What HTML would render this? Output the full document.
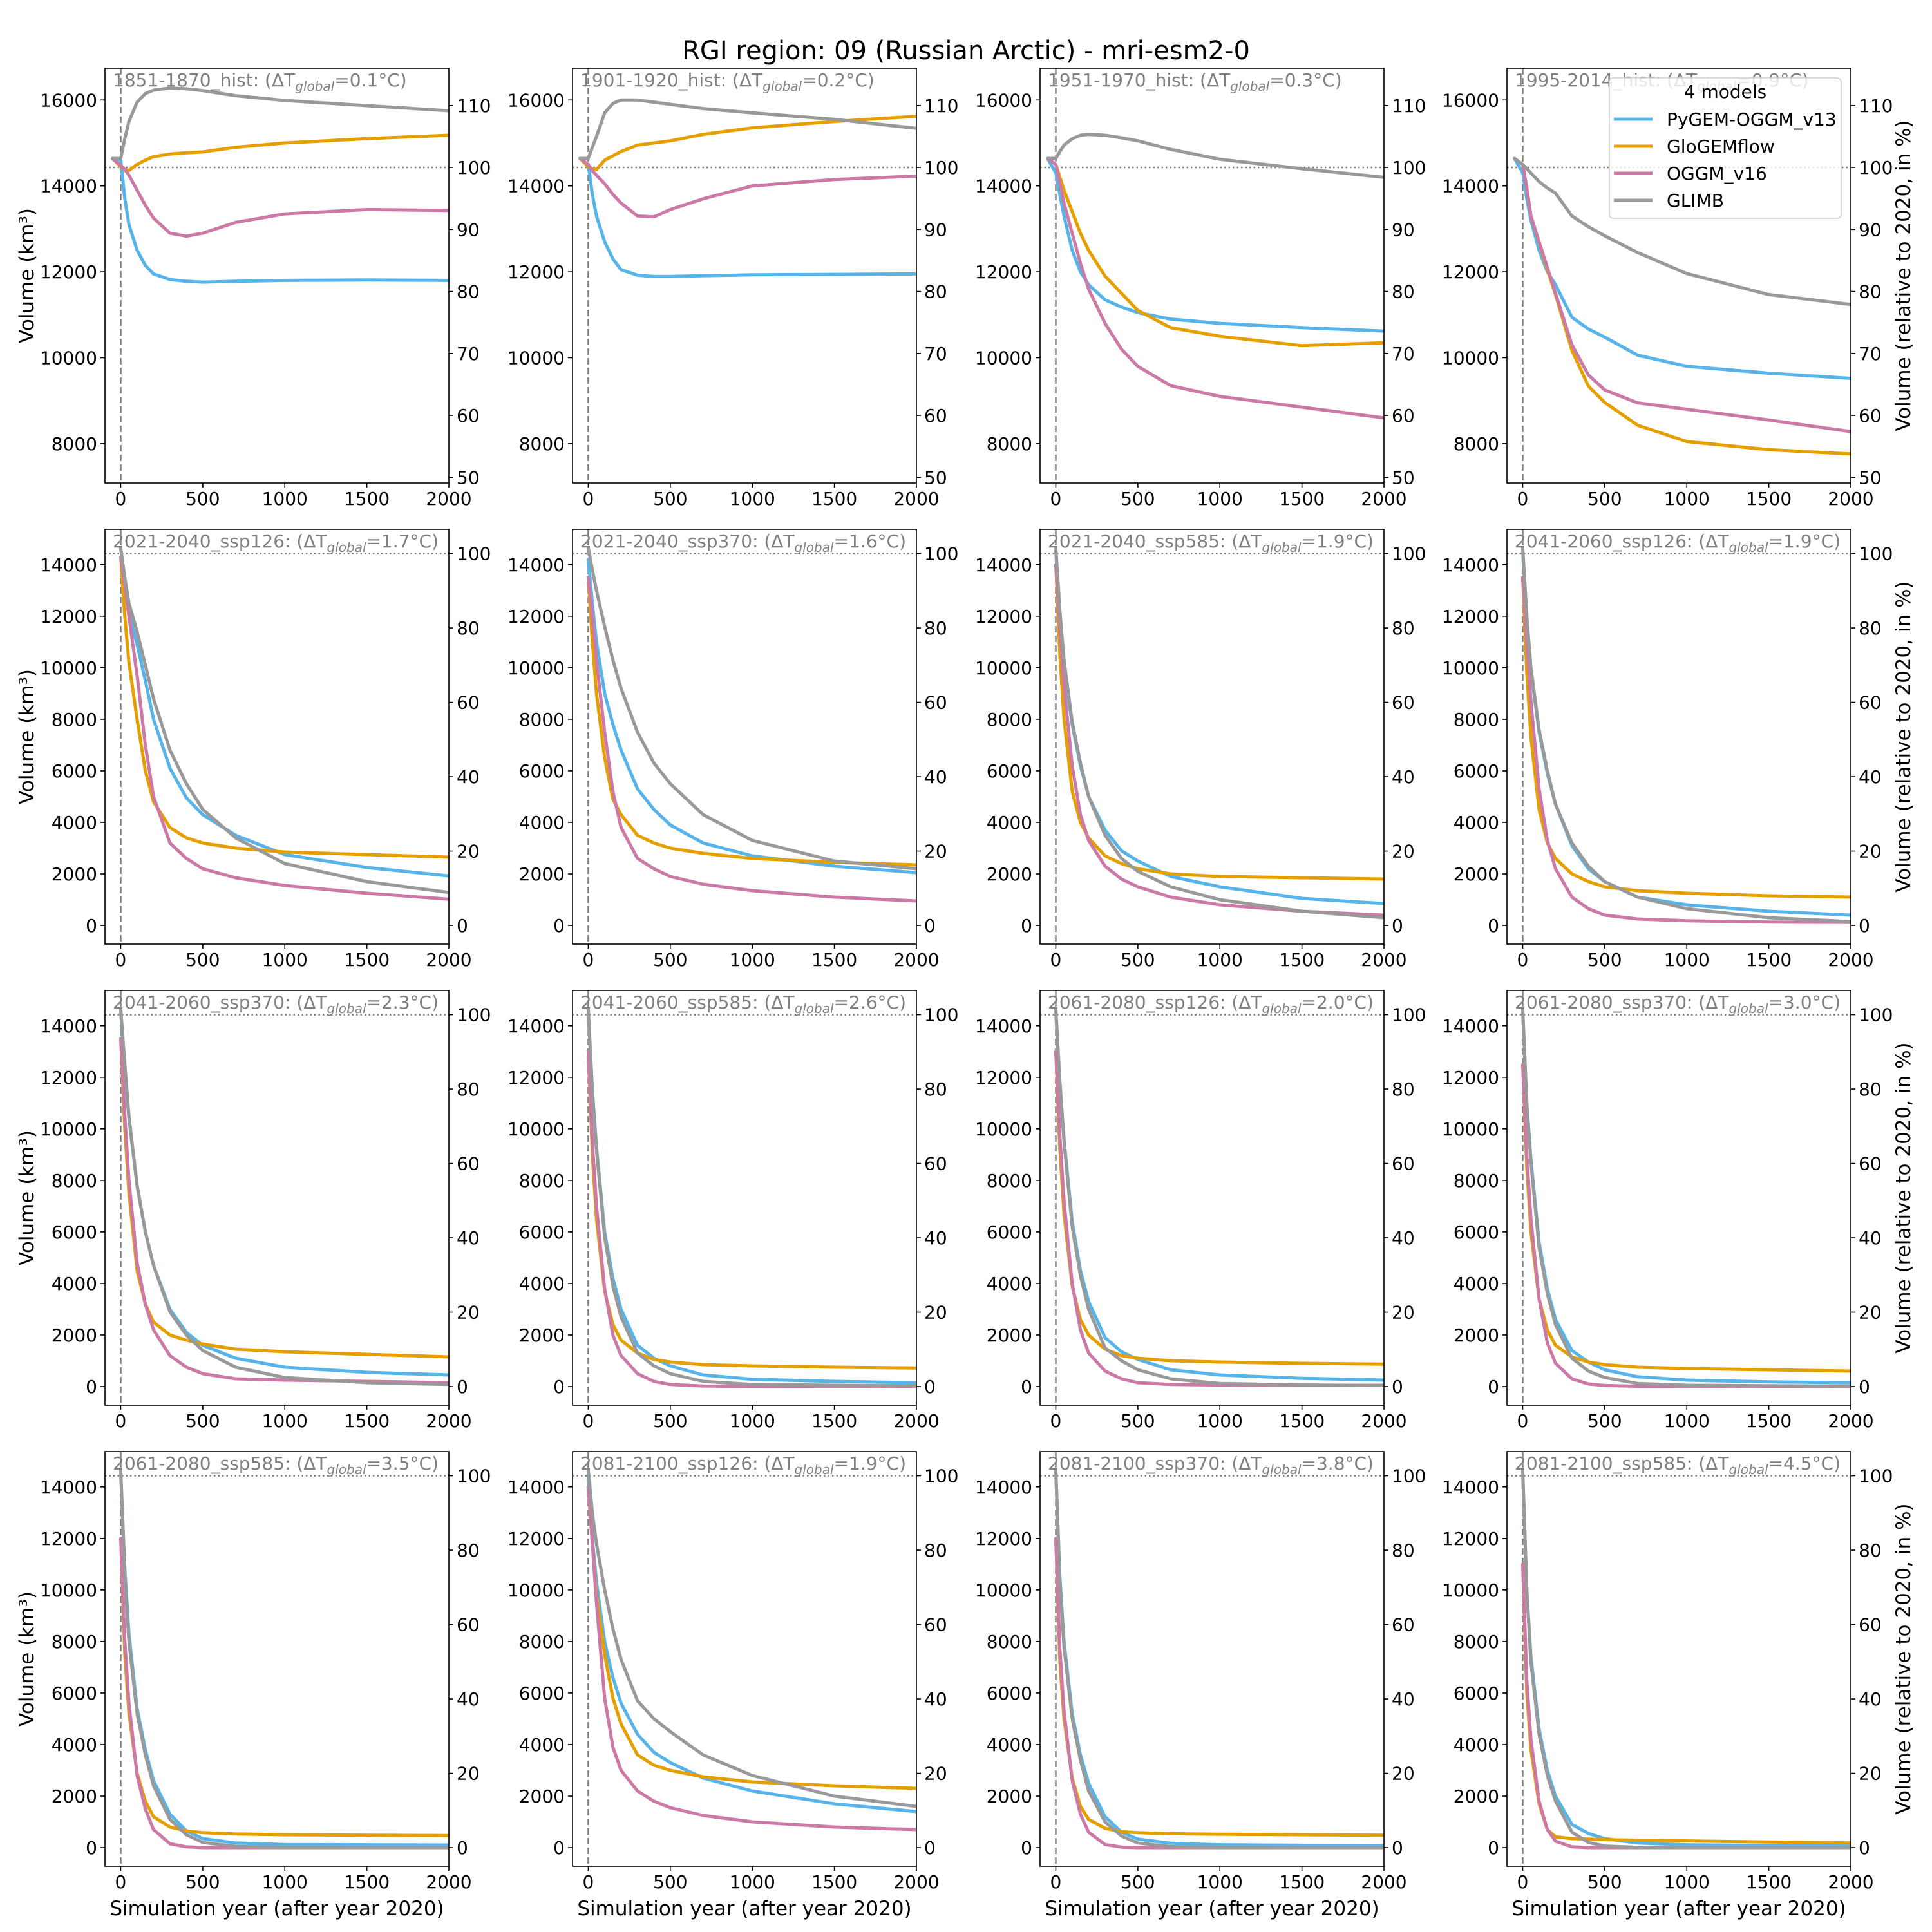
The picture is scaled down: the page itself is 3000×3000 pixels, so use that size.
<!DOCTYPE html>
<html><head><meta charset="utf-8">
<style>
html,body{margin:0;padding:0;background:#fff;}
svg{display:block;font-family:"DejaVu Sans","Liberation Sans",sans-serif;}
</style></head>
<body>
<svg id="fig" width="3000" height="3000" viewBox="0 0 3000 3000" xmlns="http://www.w3.org/2000/svg">
<rect width="3000" height="3000" fill="#fff"/>
<text x="1500" y="92" font-size="40" text-anchor="middle" fill="#000">RGI region: 09 (Russian Arctic) - mri-esm2-0</text>
</svg>
<script>
const YEARS_HIST = [-50,0,25,50,100,150,200,300,400,500,700,1000,1500,2000];
const YEARS_FUT = [0,25,50,100,150,200,300,400,500,700,1000,1500,2000];
const MODELS = ["PyGEM-OGGM_v13","GloGEMflow","OGGM_v16","GLIMB"];
const COLORS = ["#56b4e9","#e69f00","#cc79a7","#999999"];
const PANEL_LABELS = ["1851-1870_hist","1901-1920_hist","1951-1970_hist","1995-2014_hist",
"2021-2040_ssp126","2021-2040_ssp370","2021-2040_ssp585","2041-2060_ssp126",
"2041-2060_ssp370","2041-2060_ssp585","2061-2080_ssp126","2061-2080_ssp370",
"2061-2080_ssp585","2081-2100_ssp126","2081-2100_ssp370","2081-2100_ssp585"];
const DT = ["0.1","0.2","0.3","0.9","1.7","1.6","1.9","1.9","2.3","2.6","2.0","3.0","3.5","1.9","3.8","4.5"];
const REF = 14430;
const X_TICKS = [0,500,1000,1500,2000];
const Y_TICKS_HIST = [8000,10000,12000,14000,16000];
const Y_TICKS_FUT = [0,2000,4000,6000,8000,10000,12000,14000];
const PCT_TICKS_HIST = [50,60,70,80,90,100,110];
const PCT_TICKS_FUT = [0,20,40,60,80,100];

// hist panels: values at YEARS_HIST
const P1_PYGEM = [14640,14600,13700,13100,12500,12150,11950,11820,11780,11760,11780,11800,11810,11800];
const P1_GLOGEM = [14640,14450,14380,14360,14500,14600,14680,14740,14770,14790,14900,15000,15100,15180];
const P1_OGGM = [14640,14480,14380,14250,13900,13550,13250,12900,12830,12900,13150,13350,13450,13430];
const P1_GLIMB = [14640,14640,15100,15500,15950,16150,16230,16280,16260,16220,16100,15990,15870,15750];
const P2_PYGEM = [14640,14500,13800,13300,12700,12300,12050,11920,11890,11890,11910,11930,11940,11950];
const P2_GLOGEM = [14640,14450,14400,14380,14600,14700,14800,14950,15000,15050,15200,15350,15500,15620];
const P2_OGGM = [14640,14500,14350,14250,14050,13800,13600,13300,13280,13450,13700,14000,14150,14230];
const P2_GLIMB = [14640,14640,14900,15150,15700,15920,16000,16000,15950,15900,15800,15700,15550,15340];
const P3_PYGEM = [14640,14300,13800,13300,12500,12000,11700,11350,11180,11050,10900,10800,10700,10620];
const P3_GLOGEM = [14640,14500,14200,13900,13400,12900,12500,11900,11500,11100,10700,10500,10280,10350];
const P3_OGGM = [14640,14500,14050,13600,12900,12200,11600,10800,10200,9800,9350,9100,8850,8600];
const P3_GLIMB = [14640,14640,14800,14950,15100,15180,15200,15180,15120,15050,14850,14620,14400,14200];
const P4_PYGEM = [14640,14300,13700,13200,12500,12000,11700,10940,10670,10480,10060,9800,9640,9520];
const P4_GLOGEM = [14640,14500,13950,13300,12680,12050,11470,10170,9340,8960,8430,8050,7860,7760];
const P4_OGGM = [14640,14500,13950,13300,12700,12100,11500,10300,9600,9250,8950,8800,8550,8280];
const P4_GLIMB = [14640,14500,14400,14300,14100,13950,13830,13300,13050,12840,12450,11960,11470,11240];
// future panels: values at YEARS_FUT
const P5_PYGEM = [14640,13200,12100,10900,9500,8000,6100,4950,4300,3500,2750,2250,1920];
const P5_GLOGEM = [14300,12000,10200,8000,6000,4800,3800,3400,3200,3000,2850,2750,2650];
const P5_OGGM = [14300,13200,12000,9700,7000,5000,3200,2600,2200,1850,1550,1250,1020];
const P5_GLIMB = [14640,13500,12500,11400,10100,8800,6800,5500,4500,3400,2400,1700,1280];
const P6_PYGEM = [14200,12500,11000,9000,7800,6800,5300,4500,3900,3200,2700,2300,2050];
const P6_GLOGEM = [13500,11000,9000,6500,4900,4300,3500,3200,3000,2800,2600,2450,2350];
const P6_OGGM = [13500,12000,10300,7500,5200,3800,2600,2200,1900,1600,1350,1100,950];
const P6_GLIMB = [14640,13800,13000,11600,10300,9200,7500,6300,5500,4300,3300,2500,2200];
const P7_PYGEM = [14500,12000,10000,7800,6200,5000,3700,2900,2500,1900,1500,1050,850];
const P7_GLOGEM = [14000,10500,8000,5200,4000,3400,2700,2400,2200,2000,1900,1850,1800];
const P7_OGGM = [14000,11500,9300,6200,4300,3300,2300,1800,1500,1100,800,550,400];
const P7_GLIMB = [14640,12200,10300,7900,6300,5000,3500,2600,2100,1500,1000,550,300];
const P8_PYGEM = [14500,11800,9900,7500,5900,4700,3100,2200,1700,1100,800,550,400];
const P8_GLOGEM = [13500,9800,7300,4500,3200,2600,2000,1700,1500,1350,1250,1150,1100];
const P8_OGGM = [13500,11000,8700,5300,3300,2200,1100,650,400,250,180,130,120];
const P8_GLIMB = [14640,12000,10000,7600,6000,4700,3200,2300,1700,1100,650,300,150];
const P9_PYGEM = [14500,12300,10400,7800,6000,4700,3000,2100,1600,1100,750,550,450];
const P9_GLOGEM = [13500,10000,7500,4500,3200,2500,2000,1800,1650,1450,1350,1250,1150];
const P9_OGGM = [13500,10500,8000,4800,3200,2200,1200,750,500,300,250,200,150];
const P9_GLIMB = [14640,12500,10500,7800,6000,4700,2900,2000,1400,750,350,150,80];
const P10_PYGEM = [14500,11500,9300,6000,4200,3000,1600,1100,800,450,280,200,150];
const P10_GLOGEM = [13000,9000,6500,3700,2400,1800,1300,1050,950,850,800,750,720];
const P10_OGGM = [13000,9500,7000,3800,2000,1200,500,200,80,20,10,5,0];
const P10_GLIMB = [14640,11500,9200,5800,3900,2700,1300,800,500,200,80,50,30];
const P11_PYGEM = [14500,11800,9600,6400,4500,3300,1900,1350,1050,650,450,320,250];
const P11_GLOGEM = [13000,9200,6700,3900,2600,2000,1450,1200,1100,1000,950,900,870];
const P11_OGGM = [13000,9700,7200,4000,2200,1300,600,300,150,80,60,50,50];
const P11_GLIMB = [14640,11800,9500,6200,4300,3000,1500,1000,650,300,120,60,40];
const P12_PYGEM = [14500,11000,8800,5600,3800,2600,1400,950,650,380,250,180,150];
const P12_GLOGEM = [12500,8500,6000,3400,2200,1600,1150,950,850,750,700,650,600];
const P12_OGGM = [12500,9000,6500,3400,1700,900,300,100,40,10,5,0,0];
const P12_GLIMB = [14640,11000,8700,5400,3600,2400,1100,600,350,120,50,30,20];
const P13_PYGEM = [14500,10800,8300,5400,3800,2600,1300,650,350,180,120,110,100];
const P13_GLOGEM = [12000,7500,5200,2900,1800,1200,800,650,580,530,500,480,470];
const P13_OGGM = [12000,8000,5600,2800,1500,700,150,30,0,0,0,0,0];
const P13_GLIMB = [14640,10500,8000,5200,3600,2400,1100,500,200,50,10,0,0];
const P14_PYGEM = [14500,12000,10300,8000,6600,5600,4400,3700,3300,2700,2200,1700,1400];
const P14_GLOGEM = [14000,11800,9800,7500,5800,4800,3600,3200,3000,2750,2550,2400,2300];
const P14_OGGM = [14000,11800,9500,5800,3900,3000,2200,1800,1550,1250,1000,800,700];
const P14_GLIMB = [14640,13000,11800,10000,8500,7300,5700,5000,4500,3600,2800,2000,1600];
const P15_PYGEM = [14500,10500,8000,5200,3600,2500,1200,600,330,170,110,90,80];
const P15_GLOGEM = [12000,7200,5000,2700,1600,1100,750,620,580,540,520,500,480];
const P15_OGGM = [12000,7700,5300,2600,1300,600,120,20,0,0,0,0,0];
const P15_GLIMB = [14640,10300,7800,5000,3400,2200,1000,450,180,40,10,0,0];
const P16_PYGEM = [14500,10000,7400,4600,3000,2000,900,550,350,180,110,80,60];
const P16_GLOGEM = [11000,6000,3800,1700,700,420,350,330,310,290,260,220,180];
const P16_OGGM = [11000,6500,4200,1800,700,250,30,0,0,0,0,0,0];
const P16_GLIMB = [14640,10000,7200,4400,2800,1800,600,200,60,10,0,0,0];

const SERIES = [
[P1_PYGEM,P1_GLOGEM,P1_OGGM,P1_GLIMB],[P2_PYGEM,P2_GLOGEM,P2_OGGM,P2_GLIMB],
[P3_PYGEM,P3_GLOGEM,P3_OGGM,P3_GLIMB],[P4_PYGEM,P4_GLOGEM,P4_OGGM,P4_GLIMB],
[P5_PYGEM,P5_GLOGEM,P5_OGGM,P5_GLIMB],[P6_PYGEM,P6_GLOGEM,P6_OGGM,P6_GLIMB],
[P7_PYGEM,P7_GLOGEM,P7_OGGM,P7_GLIMB],[P8_PYGEM,P8_GLOGEM,P8_OGGM,P8_GLIMB],
[P9_PYGEM,P9_GLOGEM,P9_OGGM,P9_GLIMB],[P10_PYGEM,P10_GLOGEM,P10_OGGM,P10_GLIMB],
[P11_PYGEM,P11_GLOGEM,P11_OGGM,P11_GLIMB],[P12_PYGEM,P12_GLOGEM,P12_OGGM,P12_GLIMB],
[P13_PYGEM,P13_GLOGEM,P13_OGGM,P13_GLIMB],[P14_PYGEM,P14_GLOGEM,P14_OGGM,P14_GLIMB],
[P15_PYGEM,P15_GLOGEM,P15_OGGM,P15_GLIMB],[P16_PYGEM,P16_GLOGEM,P16_OGGM,P16_GLIMB]];

const NS = "http://www.w3.org/2000/svg";
const svg = document.getElementById("fig");
function mk(tag, attrs, parent){
  const e = document.createElementNS(NS, tag);
  for (const k in attrs) e.setAttribute(k, attrs[k]);
  (parent||svg).appendChild(e);
  return e;
}
const COL_X = [163, 889, 1615, 2340];
const ROW_Y = [106, 822, 1538, 2254];
const PW = 534, PH = 644;
const XMIN = -96, XMAX = 2000;

for (let p = 0; p < 16; p++) {
  const r = Math.floor(p/4), c = p % 4;
  const L = COL_X[c], T = ROW_Y[r], R = L + PW, B = T + PH;
  const hist = r === 0;
  const YMIN = hist ? 7084 : -724, YMAX = hist ? 16739 : 15369;
  const xs = v => L + (v - XMIN) / (XMAX - XMIN) * PW;
  const ys = v => B - (v - YMIN) / (YMAX - YMIN) * PH;
  const g = mk("g", {});
  
  
  const clipId = "clip" + p;
  const cp = mk("clipPath", {id: clipId}, g);
  mk("rect", {x: L, y: T, width: PW, height: PH}, cp);

  const vl = mk("line", {x1: xs(0), x2: xs(0), y1: T, y2: B, stroke: "#808080", "stroke-width": 2.5, "stroke-dasharray": "10,5"}, g);
  
  
  const hl = mk("line", {x1: L, x2: R, y1: ys(REF), y2: ys(REF), stroke: "#808080", "stroke-width": 2.5, "stroke-dasharray": "2.5,4"}, g);
  
  

  const yrs = hist ? YEARS_HIST : YEARS_FUT;
  const lg = mk("g", {"clip-path": "url(#" + clipId + ")"}, g);
  for (let m = 0; m < 4; m++) {
    const vals = SERIES[p][m];
    const d = vals.map((v, i) => (i ? "L" : "M") + xs(yrs[i]).toFixed(1) + "," + ys(v).toFixed(1)).join(" ");
    const path = mk("path", {d: d, fill: "none", stroke: COLORS[m], "stroke-width": 5, "stroke-linejoin": "round", "stroke-linecap": "round"}, lg);
    
    
  }

  const fr = mk("rect", {x: L, y: T, width: PW, height: PH, fill: "none", stroke: "#000", "stroke-width": 1.6}, g);
  
  

  for (const t of X_TICKS) {
    mk("line", {x1: xs(t), x2: xs(t), y1: B, y2: B + 7, stroke: "#000", "stroke-width": 1.6}, g);
    const tx = mk("text", {x: xs(t), y: B + 34, "font-size": 28, "text-anchor": "middle"}, g);
    
    
    tx.textContent = t;
  }
  for (const t of (hist ? Y_TICKS_HIST : Y_TICKS_FUT)) {
    mk("line", {x1: L - 7, x2: L, y1: ys(t), y2: ys(t), stroke: "#000", "stroke-width": 1.6}, g);
    const tx = mk("text", {x: L - 12, y: ys(t) + 10, "font-size": 28, "text-anchor": "end"}, g);
    
    
    tx.textContent = t;
  }
  for (const t of (hist ? PCT_TICKS_HIST : PCT_TICKS_FUT)) {
    const yy = ys(REF * t / 100);
    mk("line", {x1: R, x2: R + 7, y1: yy, y2: yy, stroke: "#000", "stroke-width": 1.6}, g);
    const tx = mk("text", {x: R + 12, y: yy + 10, "font-size": 28, "text-anchor": "start"}, g);
    
    
    tx.textContent = t;
  }
  const an = mk("text", {x: L + 12, y: T + 28, "font-size": 28, fill: "#808080"}, g);
  
  
  an.innerHTML = PANEL_LABELS[p] + ': (ΔT<tspan font-style="italic" font-size="20" dy="7">global</tspan><tspan dy="-7">=' + DT[p] + '°C)</tspan>';

  if (c === 0) {
    const yl = mk("text", {x: 0, y: 0, "font-size": 31, "text-anchor": "middle", transform: "translate(52," + (T + PH/2) + ") rotate(-90)"}, g);
    
    
    yl.textContent = "Volume (km³)";
  }
  if (c === 3) {
    const yl = mk("text", {x: 0, y: 0, "font-size": 31, "text-anchor": "middle", transform: "translate(2966," + (T + PH/2) + ") rotate(-90)"}, g);
    
    
    yl.textContent = "Volume (relative to 2020, in %)";
  }
  if (r === 3) {
    const xl = mk("text", {x: L + PW/2, y: B + 76, "font-size": 31, "text-anchor": "middle"}, g);
    
    
    xl.textContent = "Simulation year (after year 2020)";
  }
}

const lgd = mk("g", {});


mk("rect", {x: 2499, y: 121, width: 360, height: 218, rx: 6, fill: "#fff", "fill-opacity": 0.8, stroke: "#d0d0d0", "stroke-width": 1.6}, lgd);
const lt = mk("text", {x: 2679, y: 152, "font-size": 28, "text-anchor": "middle"}, lgd);


lt.textContent = "4 models";
for (let m = 0; m < 4; m++) {
  const y = 185 + m * 42;
  const ln = mk("line", {x1: 2506, x2: 2566, y1: y, y2: y, stroke: COLORS[m], "stroke-width": 5}, lgd);
  
  
  const tx = mk("text", {x: 2588, y: y + 10, "font-size": 28}, lgd);
  
  
  tx.textContent = MODELS[m];
}
</script>
</body></html>
